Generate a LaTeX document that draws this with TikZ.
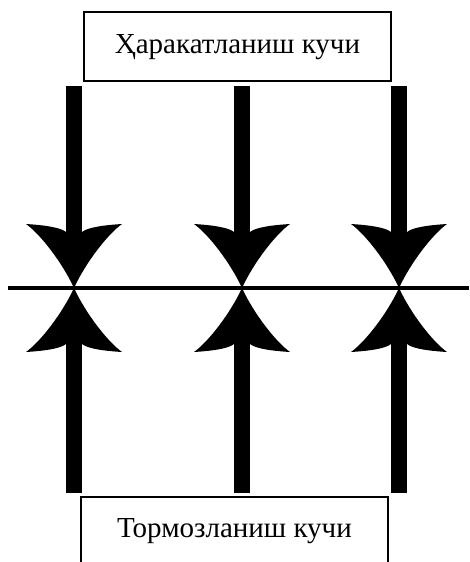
\documentclass[tikz,border=0pt]{standalone}
\usepackage{fontspec}
\setmainfont{Liberation Serif}
\tikzset{
  forcebox/.style={draw, line width=1.4pt, minimum width=307pt, minimum height=69pt, inner sep=0pt,
    font={\fontsize{29}{33}\selectfont}, text height=19pt, text depth=6pt},
  shaft/.style={line width=16pt},
  ground/.style={line width=4.5pt},
}
% arrow head: x, tip y, direction (1 = down, -1 = up)
\newcommand{\forceHead}[3]{%
  \fill[shift={(#1,#2)}, yscale=#3] (0,0) .. controls (-12,-26) and (-34,-54) .. (-48,-64)
    .. controls (-32,-63) and (-14,-61) .. (-8,-56) -- (8,-56)
    .. controls (14,-61) and (32,-63) .. (48,-64)
    .. controls (34,-54) and (12,-26) .. (0,0) -- cycle;}

\begin{document}
\begin{tikzpicture}[x=1pt,y=-1pt]
\useasboundingbox (0,0) rectangle (469,562);
\node[forcebox] (drive) at (237.5,46.5) {Ҳаракатланиш кучи};
\node[forcebox, text depth=8pt] (brake) at (234.5,531.5) {Тормозланиш кучи};
\coordinate (groundL) at (8,288);
\coordinate (groundR) at (469,288);
\draw[ground] (groundL) -- (groundR);
\foreach \cx/\n in {74/a,242/b,399/c} {
  \coordinate (top\n) at (\cx,86);
  \coordinate (upper\n) at (\cx,238);
  \coordinate (lower\n) at (\cx,338);
  \coordinate (bot\n) at (\cx,493);
  \draw[shaft] (top\n) -- (upper\n);
  \draw[shaft] (lower\n) -- (bot\n);
  \forceHead{\cx}{288}{1}
  \forceHead{\cx}{288}{-1}
}
\end{tikzpicture}
\end{document}
